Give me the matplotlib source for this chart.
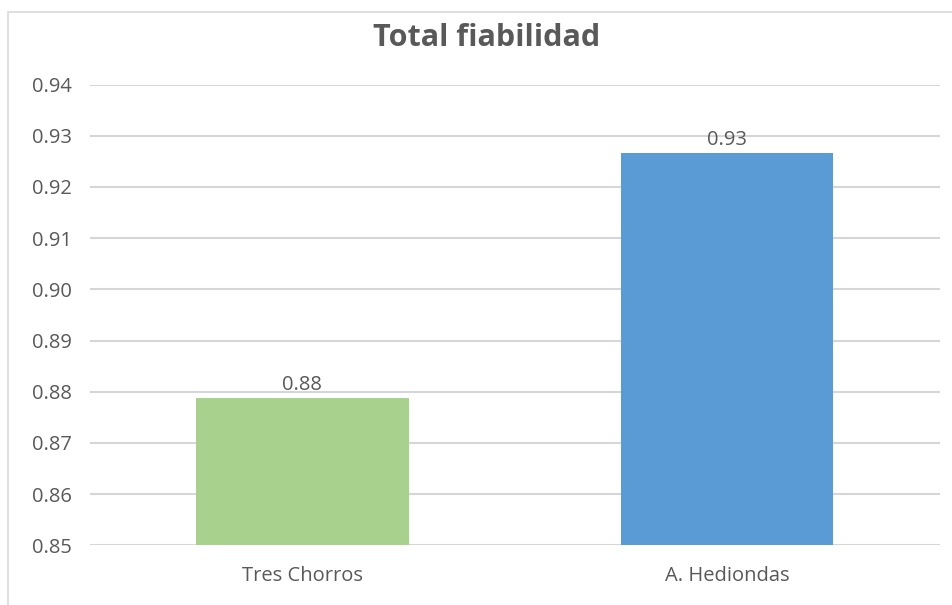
import matplotlib.pyplot as plt
from matplotlib.patches import Rectangle

categories = ['Tres Chorros', 'A. Hediondas']
values = [0.8788, 0.9266]
value_labels = ['0.88', '0.93']
colors = ['#A9D18E', '#5B9BD5']
yticks = [0.85, 0.86, 0.87, 0.88, 0.89, 0.90, 0.91, 0.92, 0.93, 0.94]

plt.rcParams['font.family'] = ['Open Sans', 'DejaVu Sans']
text_color = '#595959'

fig = plt.figure(figsize=(9.52, 6.05), dpi=100)
ax = fig.add_axes([0.0945, 0.0987, 0.8925, 0.7616])

# chart frame (light grey border like Excel)
fig.patches.append(Rectangle((8 / 952, -0.05), 1.2, 1 - 12 / 605 + 0.05,
                             transform=fig.transFigure, fill=False,
                             edgecolor='#D9D9D9', linewidth=1.2))

x = range(len(categories))
ax.bar(x, values, width=0.5, color=colors, zorder=3)
for xi, v, lab in zip(x, values, value_labels):
    ax.text(xi, v + 0.0006, lab, ha='center', va='bottom',
            fontsize=14.5, color=text_color, zorder=4)

ax.set_xlim(-0.5, 1.5)
ax.set_ylim(0.85, 0.94)
ax.set_yticks(yticks)
ax.set_yticklabels(['%.2f' % t for t in yticks])
ax.set_xticks(list(x))
ax.set_xticklabels(categories)
ax.tick_params(axis='y', length=0, pad=13, labelsize=14.5, labelcolor=text_color)
ax.tick_params(axis='x', length=0, pad=15, labelsize=14.5, labelcolor=text_color)
ax.grid(axis='y', color='#D6D6D6', linewidth=1.5, zorder=0)
for s in ax.spines.values():
    s.set_visible(False)

fig.text(487 / 952, 1 - 38 / 605, 'Total fiabilidad', ha='center', va='center',
         fontsize=22, fontweight='bold', color=text_color)

fig.savefig('out.png', dpi=100)
